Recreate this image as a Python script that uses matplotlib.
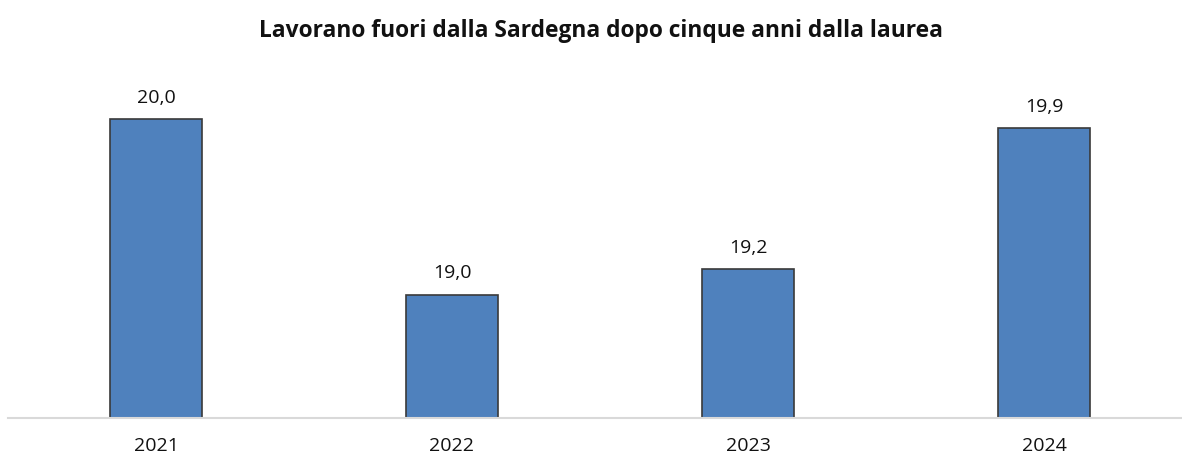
import matplotlib.pyplot as plt

# Data
anni   = ['2021', '2022', '2023', '2024']
valori = [19.98, 19.03, 19.17, 19.93]

titolo = 'Lavorano fuori dalla Sardegna dopo cinque anni dalla laurea'

plt.rcParams['font.family'] = ['Open Sans', 'DejaVu Sans']

W, H = 1182, 455
fig = plt.figure(figsize=(W / 100, H / 100), dpi=100)

y0, y1 = 18.365, 20.3
px_per_unit = 185
base_px = 418
ax_h = (y1 - y0) * px_per_unit
ax = fig.add_axes([8 / W, (H - base_px) / H, 1184 / W, ax_h / H])

x = range(len(anni))
bars = ax.bar(x, valori, width=0.314, color='#4f81bd', edgecolor='#3a3a3a', linewidth=1.2)
ax.set_ylim(y0, y1)
ax.set_xlim(-0.5, 3.5)

for b, v in zip(bars, valori):
    ax.annotate(f'{v:.1f}'.replace('.', ','), (b.get_x() + b.get_width() / 2, v),
                xytext=(0, 9), textcoords='offset points', ha='center', va='bottom',
                fontsize=14, color='#111111')

ax.set_xticks(list(x))
ax.set_xticklabels(anni, fontsize=14, color='#111111')
ax.tick_params(axis='x', length=0, pad=14)
ax.set_yticks([])
for s in ['top', 'right', 'left']:
    ax.spines[s].set_visible(False)
ax.spines['bottom'].set_color('#d9d9d9')
ax.spines['bottom'].set_linewidth(1.5)

fig.text(601 / W, 1 - 31 / H, titolo, ha='center', va='center',
         fontsize=16.4, fontweight='bold', color='#111111')

fig.savefig('out.png', dpi=100)
